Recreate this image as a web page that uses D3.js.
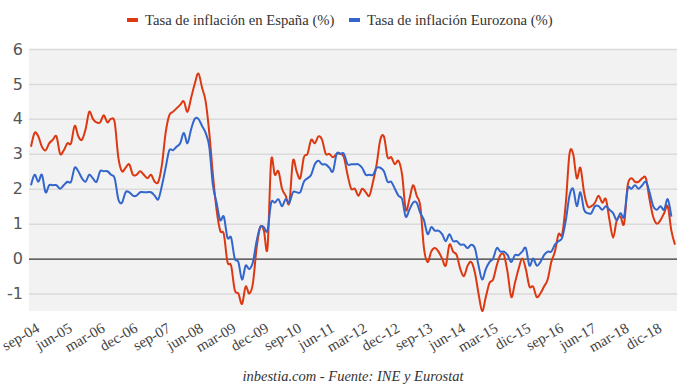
<!DOCTYPE html>
<html><head><meta charset="utf-8">
<script src="https://cdn.jsdelivr.net/npm/d3@7"></script>
<style>
body{margin:0;background:#fff}
</style>
</head><body>
<svg id="c" width="680" height="388"></svg>
<script>
const seriesNames = ["Tasa de inflación en España (%)", "Tasa de inflación Eurozona (%)"];
const seriesColors = ["#dc3912", "#3366cc"];
// monthly values, España sep-2004 .. jun-2019
const spain = [
  3.2, 3.6, 3.5, 3.2,
  3.1, 3.3, 3.4, 3.5, 3.0, 3.1, 3.3, 3.3, 3.8, 3.5, 3.4, 3.7,
  4.2, 4.0, 3.9, 3.9, 4.1, 3.9, 4.0, 3.9, 2.9, 2.5, 2.6, 2.7,
  2.4, 2.4, 2.5, 2.4, 2.3, 2.4, 2.2, 2.2, 2.7, 3.6, 4.1, 4.2,
  4.3, 4.4, 4.5, 4.2, 4.6, 5.0, 5.3, 4.9, 4.5, 3.6, 2.4, 1.4,
  0.8, 0.7, -0.1, -0.2, -0.9, -1.0, -1.3, -0.8, -1.0, -0.7, 0.3, 0.9,
  0.8, 0.3, 2.8, 2.4, 2.5, 2.0, 1.8, 1.6, 2.8, 2.5, 2.3, 2.9,
  3.0, 3.4, 3.3, 3.5, 3.4, 3.0, 3.0, 2.9, 3.0, 3.0, 2.9, 2.4,
  2.0, 2.0, 1.8, 2.0, 1.9, 1.8, 2.2, 2.7, 3.4, 3.5, 2.9, 2.9,
  2.7, 2.8, 2.4, 1.4, 1.7, 2.1, 1.8, 1.5, 0.3, -0.1, 0.2, 0.3,
  0.2, 0.0, -0.2, 0.4, 0.2, 0.1, -0.3, -0.5, -0.2, -0.1, -0.4, -1.0,
  -1.5, -1.1, -0.7, -0.6, -0.2, 0.1, 0.1, -0.4, -1.1, -0.7, -0.3, 0.0,
  -0.3, -0.8, -0.8, -1.1, -1.0, -0.8, -0.6, -0.1, 0.2, 0.7, 0.7, 1.6,
  3.0, 3.0, 2.3, 2.6, 1.9, 1.5, 1.5, 1.6, 1.8, 1.6, 1.7, 1.1,
  0.6, 1.1, 1.2, 1.0, 2.1, 2.3, 2.2, 2.2, 2.3, 2.3, 1.7, 1.2,
  1.0, 1.1, 1.3, 1.5, 0.8, 0.4
];
// Eurozona sep-2004 .. may-2019
const eurozona = [
  2.1, 2.4, 2.2, 2.4,
  1.9, 2.1, 2.1, 2.1, 2.0, 2.1, 2.2, 2.2, 2.6, 2.5, 2.3, 2.2,
  2.4, 2.3, 2.2, 2.5, 2.5, 2.5, 2.4, 2.3, 1.7, 1.6, 1.9, 1.9,
  1.8, 1.8, 1.9, 1.9, 1.9, 1.9, 1.8, 1.7, 2.1, 2.6, 3.1, 3.1,
  3.2, 3.3, 3.6, 3.3, 3.7, 4.0, 4.0, 3.8, 3.6, 3.2, 2.1, 1.6,
  1.1, 1.2, 0.6, 0.6, 0.0, -0.1, -0.6, -0.2, -0.3, -0.1, 0.5, 0.9,
  0.9, 0.8, 1.6, 1.6, 1.7, 1.5, 1.7, 1.6, 1.9, 1.9, 1.9, 2.2,
  2.3, 2.4, 2.7, 2.8, 2.7, 2.7, 2.6, 2.5, 3.0, 3.0, 3.0, 2.7,
  2.7, 2.7, 2.7, 2.6, 2.4, 2.4, 2.4, 2.6, 2.6, 2.5, 2.2, 2.2,
  2.0, 1.8, 1.7, 1.2, 1.4, 1.6, 1.6, 1.3, 1.1, 0.7, 0.9, 0.8,
  0.8, 0.7, 0.5, 0.7, 0.5, 0.5, 0.4, 0.4, 0.3, 0.4, 0.3, -0.2,
  -0.6, -0.3, -0.1, 0.0, 0.3, 0.2, 0.2, 0.1, -0.1, 0.1, 0.1, 0.2,
  0.3, -0.2, 0.0, -0.2, -0.1, 0.1, 0.2, 0.2, 0.4, 0.5, 0.6, 1.1,
  1.8, 2.0, 1.5, 1.9, 1.4, 1.3, 1.3, 1.5, 1.5, 1.4, 1.5, 1.4,
  1.3, 1.1, 1.3, 1.2, 2.0, 2.0, 2.1, 2.0, 2.1, 2.2, 1.9, 1.5,
  1.4, 1.5, 1.4, 1.7, 1.2
];
const tickLabels = ["sep-04","jun-05","mar-06","dec-06","sep-07","jun-08","mar-09","dec-09","sep-10","jun-11",
  "mar-12","dec-12","sep-13","jun-14","mar-15","dic-15","sep-16","jun-17","mar-18","dic-18"];
const tickStep = 9;
const yTicks = [-1, 0, 1, 2, 3, 4, 5, 6];
const footer = "inbestia.com - Fuente: INE y Eurostat";

const SERIF = '"Liberation Serif", "Times New Roman", "DejaVu Serif", serif';
const SANS = '"DejaVu Sans", sans-serif';

const svg = d3.select("#c");
const plot = {left: 29, right: 677, top: 49, bottom: 311};
const x = d3.scaleLinear().domain([0, spain.length - 1]).range([31, 675]);
const y = d3.scaleLinear().domain([-1.5, 6]).range([plot.bottom, plot.top]);

svg.append("rect").attr("x", plot.left).attr("y", plot.top)
  .attr("width", plot.right - plot.left).attr("height", plot.bottom - plot.top)
  .attr("fill", "#f2f2f2");

// grid
const grid = svg.append("g").attr("transform", `translate(${plot.left},0)`)
  .call(d3.axisLeft(y).tickValues(yTicks).tickSize(-(plot.right - plot.left)).tickFormat(""));
grid.select(".domain").remove();
grid.selectAll("line").attr("stroke", d => d === 0 ? "#333" : "#dadada")
  .attr("stroke-width", d => d === 0 ? 1.3 : 1.5);

// y labels
const yAx = svg.append("g").attr("transform", `translate(23,0)`)
  .call(d3.axisLeft(y).tickValues(yTicks).tickSize(0).tickPadding(0).tickFormat(d => String(d)));
yAx.select(".domain").remove();
yAx.attr("font-family", null);
yAx.selectAll("text").style("font-family", SANS).style("font-size", "16px")
  .attr("fill", "#555").attr("text-anchor", "end");

// x labels
const tickIdx = tickLabels.map((_, i) => i * tickStep);
const xAx = svg.append("g").attr("transform", `translate(0,${plot.bottom})`)
  .call(d3.axisBottom(x).tickValues(tickIdx).tickSize(0).tickFormat((d, i) => tickLabels[i]));
xAx.select(".domain").remove();
xAx.attr("font-family", null);
xAx.selectAll("text")
  .style("font-family", SERIF).style("font-size", "15px").attr("fill", "#444")
  .attr("text-anchor", "end").attr("dy", 0).attr("y", 0)
  .attr("transform", `translate(9,20) rotate(-30)`);

// lines
const line = d3.line().x((d, i) => x(i)).y(d => y(d)).curve(d3.curveCardinal);
[spain, eurozona].forEach((s, k) => {
  svg.append("path").datum(s).attr("d", line).attr("fill", "none")
    .attr("stroke", seriesColors[k]).attr("stroke-width", 2).attr("stroke-linejoin", "round");
});

// legend
const legendX = [127, 349];
seriesNames.forEach((n, k) => {
  svg.append("rect").attr("x", legendX[k]).attr("y", 18).attr("width", 11).attr("height", 4)
    .attr("fill", seriesColors[k]);
  svg.append("text").attr("x", legendX[k] + 18).attr("y", 25).text(n)
    .style("font-family", SERIF).style("font-size", "14.7px").attr("fill", "#333");
});

svg.append("text").attr("x", 353).attr("y", 381).attr("text-anchor", "middle")
  .style("font-family", SERIF).style("font-style", "italic").style("font-size", "14.5px")
  .attr("fill", "#333").text(footer);
</script>
</body></html>
